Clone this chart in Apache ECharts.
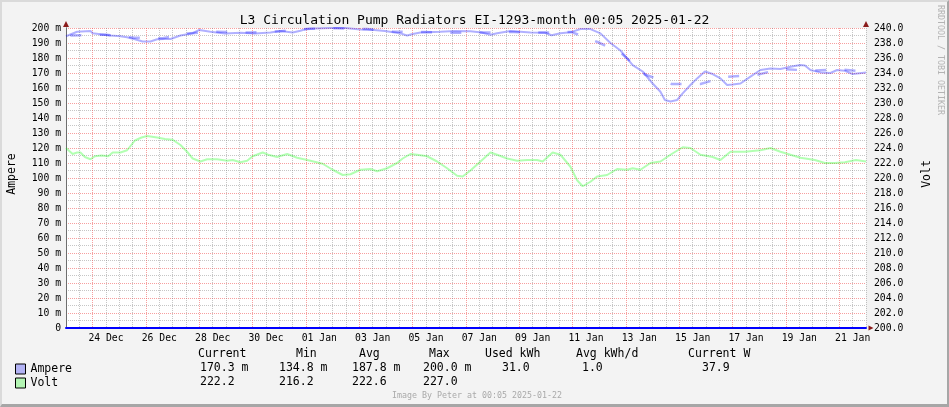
<!DOCTYPE html>
<html><head><meta charset="utf-8">
<script src="https://cdn.jsdelivr.net/npm/echarts@6/dist/echarts.min.js"></script>
<style>
html,body{margin:0;padding:0;background:#f3f3f3;}
#frame{position:absolute;left:0;top:0;width:949px;height:407px;box-sizing:border-box;border-top:2px solid #dadada;border-left:2px solid #dadada;border-right:2px solid #a6a6a6;border-bottom:3px solid #a6a6a6;}
#chart{position:absolute;left:0;top:0;width:949px;height:407px;}
</style></head><body><div id="frame"></div><div id="chart"></div>
<script>
// time origin: 2024-12-23 00:00, x values are hours since then
const startDate = Date.UTC(2024, 11, 23);
const endHour = 720;

const ampereHours = [0,5,10,22,24,31,40,49,55,62,69,76,82,89,94,103,114,120,130,143,157,170,184,193,204,211,216,224,238,251,265,275,287,296,301,307,312,319,337,350,364,374,382,388,400,418,431,437,445,454,463,472,481,490,499,505,510,519,528,535,539,544,550,555,562,568,575,582,589,595,600,607,616,625,634,643,652,661,665,670,679,688,694,701,708,720];
const ampereValues = [194.5,196,197.5,198,196.5,195.8,195,194.5,193.8,192.5,191,191,192.5,192.7,192.7,195,196.5,198.7,197.5,196.4,196.9,196.4,197,198,197,198.2,199.3,199.6,200,200,199,198.8,198,197,196.4,195,196,197,197.5,198,197.8,197,195.5,196.5,198,197,196.8,195.2,196.5,197.1,199.3,199.3,196.4,190,185,179.8,175.3,171,163,157.5,152,151,152,156.4,162,166.4,171,169.3,166.4,162,162.4,163,167.6,172,173,172.7,174.2,175.3,175,172,170.4,170,172,171.5,169.3,170.3];

const trendHours = [0,36,62,87,109,134,166,193,220,244,271,295,322,349,376,403,428,455,479,500,521,545,571,594,620,644,671,695,720];
const trendValues = [195,195.5,193.5,193.2,196.4,197.5,197,197.8,199.5,199.8,199.3,197.5,197.3,196.8,197,197.3,197,197.3,190.5,183,169,162.7,162.7,167.5,168.5,172.7,171.5,172.5,171];

const voltHours = [0,6,10,13,17,22,26,32,38,42,49,55,62,68,73,82,89,96,103,109,114,121,127,136,145,150,157,163,168,177,182,190,199,208,220,231,240,249,256,265,274,280,289,298,303,310,316,325,334,343,352,357,364,373,382,388,397,406,415,424,429,438,445,454,460,465,472,478,487,496,505,510,517,526,535,544,555,562,571,582,589,598,611,625,634,643,652,661,674,683,692,701,711,720];
const voltValues = [224.0,223.2,223.4,223.4,222.8,222.5,222.9,223.0,222.9,223.4,223.4,223.7,225.0,225.4,225.6,225.4,225.2,225.1,224.4,223.5,222.6,222.2,222.5,222.5,222.3,222.4,222.1,222.3,222.9,223.4,223.1,222.8,223.2,222.7,222.3,221.9,221.1,220.4,220.5,221.1,221.2,220.9,221.3,222.0,222.6,223.2,223.1,222.9,222.2,221.3,220.3,220.2,221.0,222.2,223.4,223.1,222.6,222.3,222.4,222.4,222.2,223.4,223.1,221.5,219.7,218.9,219.5,220.2,220.4,221.2,221.1,221.3,221.1,222.0,222.2,223.1,224.1,224.0,223.1,222.8,222.4,223.5,223.5,223.7,224.0,223.5,223.1,222.7,222.4,222.0,222.0,222.1,222.4,222.2];

const xLabelHours = [36,84,132,180,228,276,324,372,420,468,516,564,612,660,708];
const xLabelTexts = ['24 Dec','26 Dec','28 Dec','30 Dec','01 Jan','03 Jan','05 Jan','07 Jan','09 Jan','11 Jan','13 Jan','15 Jan','17 Jan','19 Jan','21 Jan'];

const legendHeaders = ['Current','Min','Avg','Max','Used kWh','Avg kWh/d','Current W'];
const ampereStats = ['170.3 m','134.8 m','187.8 m','200.0 m','31.0','1.0','37.9'];
const voltStats = ['222.2','216.2','222.6','227.0'];

const titleText = 'L3 Circulation Pump Radiators EI-1293-month 00:05 2025-01-22';
const footerText = 'Image By Peter at 00:05 2025-01-22';
const sideText = 'RRDTOOL / TOBI OETIKER';

const MONO = '"DejaVu Sans Mono", monospace';
const headerX = [198, 296, 359, 429, 485, 576, 688];
const valueX = [200, 279, 352, 423, 502, 582, 702];

function pairs(xs, ys){ return xs.map((x,i)=>[x, ys[i]]); }

const graphics = [];
legendHeaders.forEach((t,i)=>graphics.push({type:'text', x:headerX[i], y:354, style:{text:t, font:'11.5px '+MONO, fill:'#000', textAlign:'left', textVerticalAlign:'middle', align:'left', verticalAlign:'middle'}}));
ampereStats.forEach((t,i)=>graphics.push({type:'text', x:valueX[i], y:368, style:{text:t, font:'11.5px '+MONO, fill:'#000', textAlign:'left', textVerticalAlign:'middle', align:'left', verticalAlign:'middle'}}));
voltStats.forEach((t,i)=>graphics.push({type:'text', x:valueX[i], y:382, style:{text:t, font:'11.5px '+MONO, fill:'#000', textAlign:'left', textVerticalAlign:'middle', align:'left', verticalAlign:'middle'}}));
graphics.push({type:'text', x:477, y:396, style:{text:footerText, font:'8.3px '+MONO, fill:'#a9a9a9', textAlign:'center', textVerticalAlign:'middle', align:'center', verticalAlign:'middle'}});
graphics.push({type:'text', x:940.5, y:5, rotation:-Math.PI/2, style:{text:sideText, font:'8.3px '+MONO, fill:'#b3b3b3', textAlign:'left', textVerticalAlign:'middle', align:'left', verticalAlign:'middle'}});

const GRID_MINOR = 'rgba(120,120,120,0.42)';
const GRID_MAJOR = 'rgba(240,80,80,0.55)';
const arrowColor = '#8b1c1c';

const chart = echarts.init(document.getElementById('chart'), null, {renderer:'canvas'});
chart.setOption({
  animation:false,
  backgroundColor:'transparent',
  title:{text:titleText, left:'center', top:9, textStyle:{fontFamily:MONO, fontSize:13, fontWeight:'normal', color:'#000'}},
  grid:{left:66, right:83, top:28, bottom:79, show:true, backgroundColor:'#ffffff', borderWidth:0, containLabel:false, outerBoundsMode:'none'},
  legend:{
    data:[{name:'Ampere', itemStyle:{color:'#b3b3f5'}}, {name:'Volt', itemStyle:{color:'#b3f5b3'}}],
    orient:'vertical', left:15, top:363, itemWidth:10, itemHeight:10, itemGap:2, icon:'rect', padding:0,
    itemStyle:{borderColor:'#000', borderWidth:1},
    textStyle:{fontFamily:MONO, fontSize:11.5, color:'#000'},
    selectedMode:false
  },
  xAxis:[{
    type:'value', min:0, max:endHour, interval:12,
    axisLine:{show:true, onZero:false, lineStyle:{color:'#0000ff', width:2}},
    axisTick:{show:false},
    axisLabel:{show:true, customValues:xLabelHours, margin:5, fontFamily:MONO, fontSize:9.75, color:'#000',
      formatter:(v)=>{const i=xLabelHours.indexOf(v); return i>=0?xLabelTexts[i]:'';}},
    splitLine:{show:true, lineStyle:{color:[GRID_MINOR,GRID_MINOR,GRID_MAJOR,GRID_MINOR], type:[1,1], width:1}}
  },{
    type:'value', min:0, max:endHour, position:'bottom',
    axisLine:{show:true, onZero:false, symbol:['none','triangle'], symbolSize:[5,5], symbolOffset:[0,5], lineStyle:{color:arrowColor, width:0}},
    axisTick:{show:false}, axisLabel:{show:false}, splitLine:{show:false}
  }],
  yAxis:[{
    type:'value', min:0, max:200, interval:10, position:'left',
    name:'Ampere', nameLocation:'middle', nameGap:48, nameTextStyle:{fontFamily:MONO, fontSize:11.5, color:'#000', padding:[0,0,0,8]},
    axisLine:{show:true, lineStyle:{color:'#6e6e6e', width:1}},
    axisTick:{show:false},
    axisLabel:{margin:5, fontFamily:MONO, fontSize:9.75, color:'#000', formatter:(v)=> v===0?'0':v+' m'},
    splitLine:{show:true, lineStyle:{color:GRID_MAJOR, type:[1,1], width:1}},
    minorTick:{show:false, splitNumber:2},
    minorSplitLine:{show:true, lineStyle:{color:GRID_MINOR, type:[1,1], width:1}}
  },{
    type:'value', min:200, max:240, interval:2, position:'right',
    name:'Volt', nameLocation:'middle', nameGap:55, nameTextStyle:{fontFamily:MONO, fontSize:11.5, color:'#000', padding:[0,0,0,8]},
    axisLine:{show:true, lineStyle:{color:'#6e6e6e', width:1}},
    axisTick:{show:false},
    axisLabel:{margin:8, fontFamily:MONO, fontSize:9.75, color:'#000', formatter:(v)=>v.toFixed(1)},
    splitLine:{show:false}
  },{
    type:'value', min:0, max:200, position:'left',
    axisLine:{show:true, symbol:['none','triangle'], symbolSize:[6,6], symbolOffset:[0,4], lineStyle:{color:arrowColor, width:0}},
    axisTick:{show:false}, axisLabel:{show:false}, splitLine:{show:false}
  },{
    type:'value', min:0, max:200, position:'right',
    axisLine:{show:true, symbol:['none','triangle'], symbolSize:[6,6], symbolOffset:[0,4], lineStyle:{color:arrowColor, width:0}},
    axisTick:{show:false}, axisLabel:{show:false}, splitLine:{show:false}
  }],
  series:[{
    name:'Ampere', type:'line', xAxisIndex:0, yAxisIndex:0, data:pairs(ampereHours, ampereValues),
    showSymbol:false, symbol:'none', lineStyle:{color:'rgba(0,0,255,0.31)', width:2}, itemStyle:{color:'#b3b3f5'}, z:3
  },{
    name:'AmpereTrend', type:'line', xAxisIndex:0, yAxisIndex:0, data:pairs(trendHours, trendValues),
    showSymbol:false, symbol:'none', lineStyle:{color:'rgba(0,0,255,0.31)', width:2.5, type:[11,18.3], dashOffset:24.9}, z:3
  },{
    name:'Volt', type:'line', xAxisIndex:0, yAxisIndex:1, data:pairs(voltHours, voltValues),
    showSymbol:false, symbol:'none', lineStyle:{color:'rgba(0,255,0,0.3)', width:2}, itemStyle:{color:'#b3f5b3'}, z:3
  }],
  graphic:graphics
});
</script></body></html>
